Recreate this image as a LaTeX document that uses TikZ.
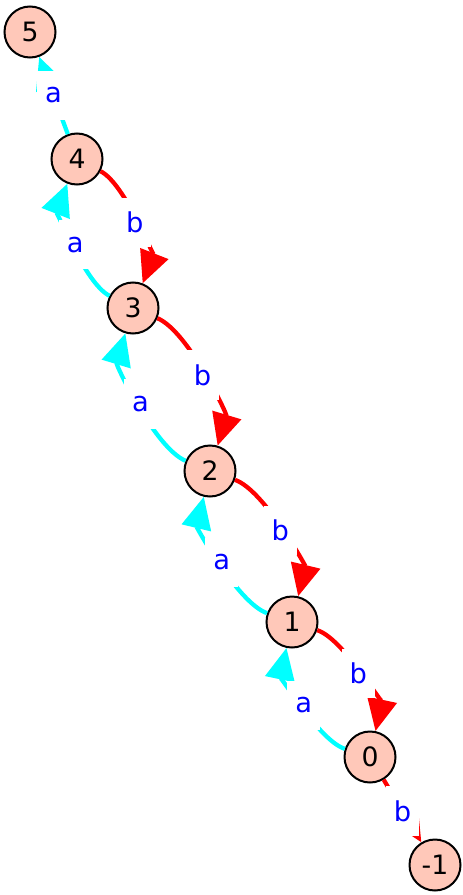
\documentclass[tikz,border=0pt]{standalone}
\usepackage{fontspec}
\setmainfont{DejaVu Sans}
\usetikzlibrary{arrows.meta}
\definecolor{statefill}{RGB}{255,200,185}
\definecolor{acolor}{RGB}{0,255,255}
\definecolor{bcolor}{RGB}{255,0,0}
\definecolor{labelblue}{RGB}{0,0,255}
\tikzset{every picture/.style={line width=0.75pt}}
\tikzset{
  state/.style={circle,draw=black,line width=1.5pt,fill=statefill,minimum size=38.25pt,inner sep=0pt,font=\fontsize{20}{24}\selectfont},
  edgea/.style={draw=acolor,line width=3.2pt,-{Triangle[length=24pt,width=22pt]}},
  edgeb/.style={draw=bcolor,line width=3.2pt,-{Triangle[length=24pt,width=22pt]}},
  edgelabel/.style={fill=white,text=labelblue,inner sep=0pt,minimum width=25pt,minimum height=37pt,font=\fontsize{20.5}{24}\selectfont},
  curved/.style={bend right=42,looseness=0.6}
}
\begin{document}
\begin{tikzpicture}[x=0.75pt,y=0.75pt,yscale=-1,xscale=1]
\useasboundingbox (0,0) rectangle (463,895);

% States
\node[state] (s5) at (30,32) {5};
\node[state] (s4) at (77,159) {4};
\node[state] (s3) at (133,308) {3};
\node[state] (s2) at (210,471) {2};
\node[state] (s1) at (292,622) {1};
\node[state] (s0) at (370,757) {0};
\node[state] (sm1) at (435,865) {-1};

% a edges
\draw[edgea] (s4) -- node[edgelabel] {a} (s5);
\draw[edgea] (s3) to[curved] node[edgelabel] {a} (s4);
\draw[edgea] (s2) to[curved] node[edgelabel] {a} (s3);
\draw[edgea] (s1) to[curved] node[edgelabel] {a} (s2);
\draw[edgea] (s0) to[curved] node[edgelabel] {a} (s1);

% b edges
\draw[edgeb] (s4) to[curved] node[edgelabel] {b} (s3);
\draw[edgeb] (s3) to[curved] node[edgelabel] {b} (s2);
\draw[edgeb] (s2) to[curved] node[edgelabel] {b} (s1);
\draw[edgeb] (s1) to[curved] node[edgelabel] {b} (s0);
\draw[edgeb] (s0) -- node[edgelabel] {b} (sm1);

\end{tikzpicture}
\end{document}
